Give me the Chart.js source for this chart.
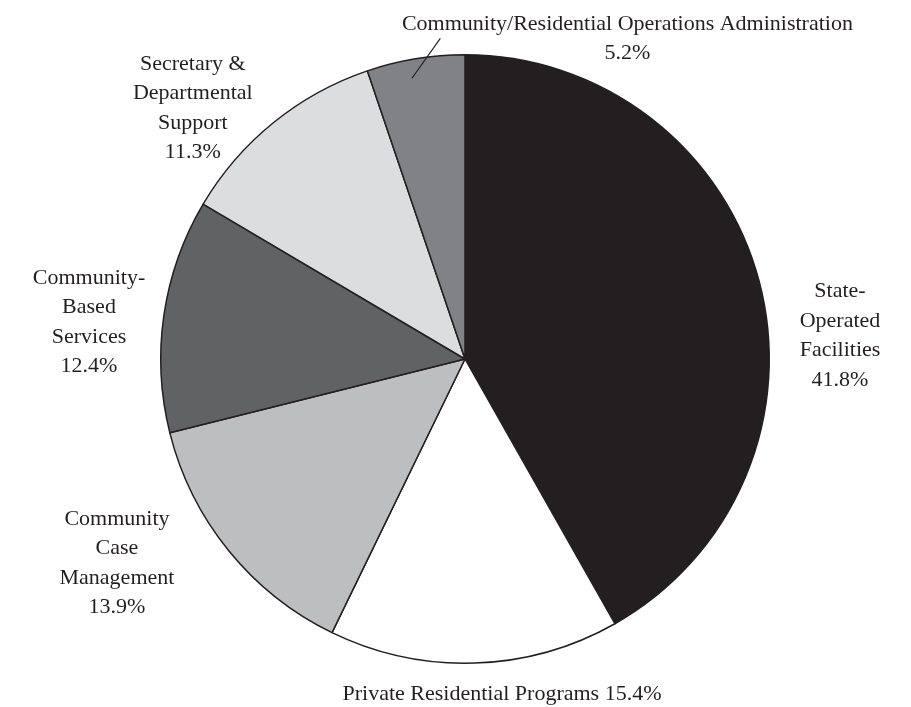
<!DOCTYPE html>
<html>
<head>
<meta charset="utf-8">
<script src="https://cdn.jsdelivr.net/npm/chart.js@4/dist/chart.umd.min.js"></script>
<style>
  html, body { margin: 0; padding: 0; background: #fff; }
  canvas { display: block; }
</style>
</head>
<body>
<canvas id="budgetChart" width="911" height="707"></canvas>
<script>
var sliceLabels = [
	['State-', 'Operated', 'Facilities'],
	['Private Residential Programs'],
	['Community', 'Case', 'Management'],
	['Community-', 'Based', 'Services'],
	['Secretary &', 'Departmental', 'Support'],
	['Community/Residential Operations Administration']
];
var sliceValues = [41.8, 15.4, 13.9, 12.4, 11.3, 5.2];
var sliceColors = ['#231f20', '#ffffff', '#bcbec0', '#616264', '#dcdddf', '#808285'];

// where each label block sits: [angle from top in degrees, distance in radii], percent on same line?
var labelPlace = [[87.3, 1.234], [173.8, 1.126], [238.9, 1.336], [274.7, 1.240], [312.0, 1.204], [27.3, 1.164]];
var pctInline = [false, true, false, false, false, false];
// leader line for the small slice: [angle, dist] start and end
var leaders = { 5: [[349.3, 0.939], [355.6, 1.057]] };

var lineHeight = 29.5;
var textColor = '#231f20';

function polar(cx, cy, r, deg, f) {
	var a = deg * Math.PI / 180;
	return { x: cx + Math.sin(a) * r * f, y: cy - Math.cos(a) * r * f };
}

var outsideLabels = {
	id: 'outsideLabels',
	afterDraw: function (chart) {
		var ctx = chart.ctx;
		var meta = chart.getDatasetMeta(0);
		var arc0 = meta.data[0];
		var cx = arc0.x, cy = arc0.y, r = arc0.outerRadius;
		ctx.save();
		ctx.fillStyle = textColor;
		ctx.strokeStyle = textColor;
		ctx.font = '22px "Liberation Serif", "Times New Roman", serif';
		ctx.textAlign = 'center';
		ctx.textBaseline = 'alphabetic';
		sliceLabels.forEach(function (lines, i) {
			var pct = sliceValues[i].toFixed(1) + '%';
			var all = lines.slice();
			if (pctInline[i]) {
				all[all.length - 1] = all[all.length - 1] + ' ' + pct;
			} else {
				all.push(pct);
			}
			var p = polar(cx, cy, r, labelPlace[i][0], labelPlace[i][1]);
			var y0 = p.y - (all.length - 1) * lineHeight / 2;
			all.forEach(function (t, k) {
				ctx.fillText(t, p.x, y0 + k * lineHeight);
			});
			if (leaders[i]) {
				var a = polar(cx, cy, r, leaders[i][0][0], leaders[i][0][1]);
				var b = polar(cx, cy, r, leaders[i][1][0], leaders[i][1][1]);
				ctx.lineWidth = 1.2;
				ctx.beginPath();
				ctx.moveTo(a.x, a.y);
				ctx.lineTo(b.x, b.y);
				ctx.stroke();
			}
		});
		ctx.restore();
	}
};

var budgetCtx = document.getElementById('budgetChart');
var budgetChart = new Chart(budgetCtx, {
	type: 'pie',
	data: {
		labels: sliceLabels,
		datasets: [{
			data: sliceValues,
			backgroundColor: sliceColors,
			borderColor: '#231f20',
			borderWidth: 1.5
		}]
	},
	options: {
		responsive: false,
		animation: false,
		layout: { padding: { top: 54, bottom: 43, left: 160, right: 141 } },
		plugins: {
			legend: { display: false },
			tooltip: { enabled: false }
		}
	},
	plugins: [outsideLabels]
});
</script>
</body>
</html>
